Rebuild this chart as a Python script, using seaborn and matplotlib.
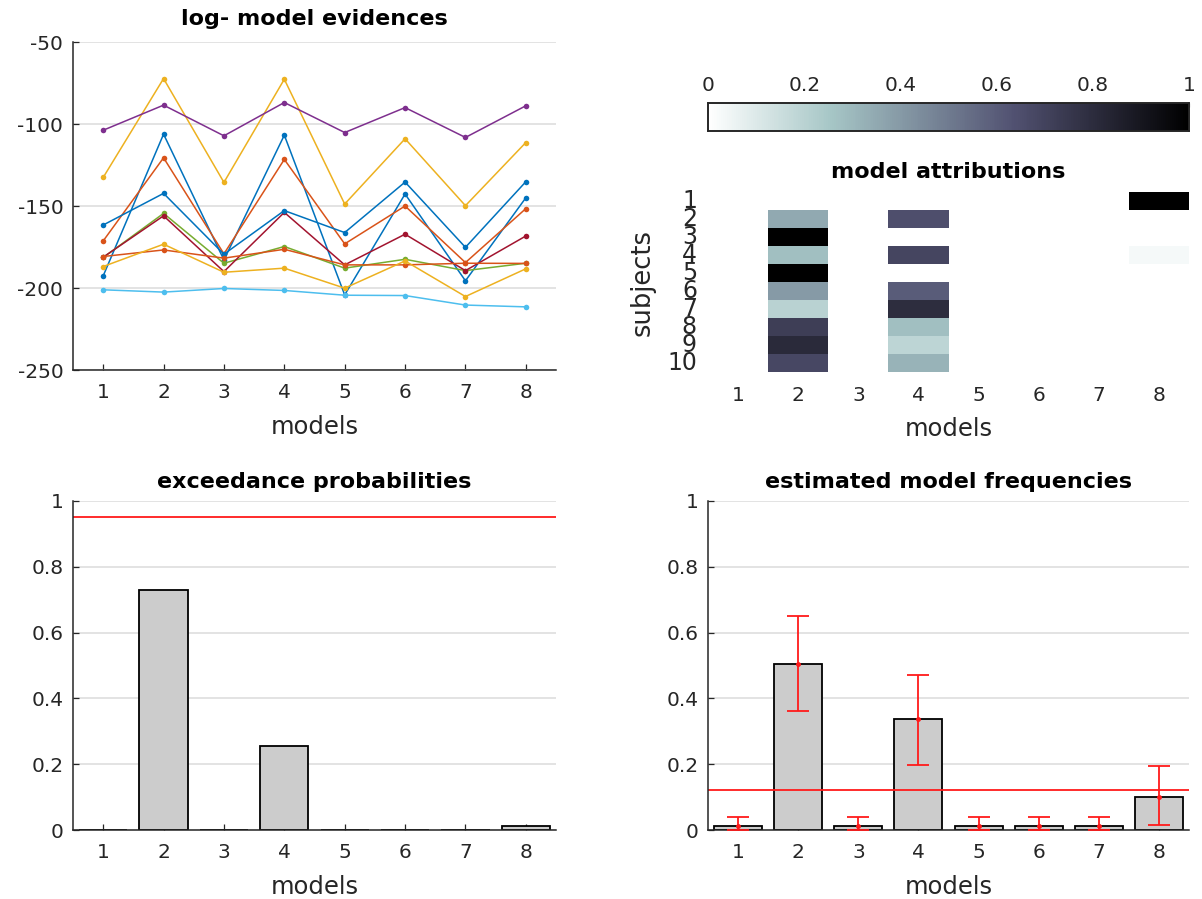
import numpy as np
import pandas as pd
import matplotlib
matplotlib.use("Agg")
import matplotlib.pyplot as plt
import seaborn as sns

# ---------------------------------------------------------------- data
models = [1, 2, 3, 4, 5, 6, 7, 8]
subjects = [1, 2, 3, 4, 5, 6, 7, 8, 9, 10]

# log-model evidence per subject (one list per subject, over the 8 models)
lme_s1 = [-192.6, -106.2, -182.9, -106.8, -204.2, -142.7, -195.6, -145.0]
lme_s2 = [-171.3, -120.6, -179.2, -121.6, -173.1, -150.0, -184.5, -151.6]
lme_s3 = [-132.6, -72.3, -135.6, -72.7, -148.8, -109.0, -149.8, -111.3]
lme_s4 = [-103.8, -88.5, -107.2, -86.9, -105.2, -90.0, -108.2, -88.9]
lme_s5 = [-181.4, -154.5, -184.9, -174.7, -187.9, -182.5, -189.4, -184.9]
lme_s6 = [-201.1, -202.5, -200.3, -201.5, -204.4, -204.6, -210.4, -211.5]
lme_s7 = [-181.2, -156.0, -190.0, -153.9, -185.9, -167.2, -189.4, -168.3]
lme_s8 = [-161.6, -142.3, -179.4, -152.8, -166.2, -135.4, -175.2, -135.2]
lme_s9 = [-180.8, -176.8, -181.8, -176.4, -185.9, -185.9, -184.9, -185.0]
lme_s10 = [-186.9, -173.3, -190.4, -187.9, -200.1, -183.5, -205.2, -188.3]
lme_rows = [lme_s1, lme_s2, lme_s3, lme_s4, lme_s5,
            lme_s6, lme_s7, lme_s8, lme_s9, lme_s10]

# posterior model attributions (rows: subjects, columns: models)
attr_m2 = [0.00, 0.35, 1.00, 0.28, 1.00, 0.40, 0.20, 0.72, 0.81, 0.68]
attr_m4 = [0.00, 0.65, 0.00, 0.69, 0.00, 0.60, 0.80, 0.28, 0.19, 0.32]
attr_m8 = [1.00, 0.00, 0.00, 0.03, 0.00, 0.00, 0.00, 0.00, 0.00, 0.00]

# exceedance probabilities
xp = [0.0, 0.731, 0.0, 0.254, 0.0, 0.0, 0.0, 0.011]
xp_threshold = 0.95

# estimated model frequencies with their lower / upper bounds
freq = [0.011, 0.504, 0.011, 0.336, 0.011, 0.011, 0.011, 0.101]
freq_lo = [0.0, 0.362, 0.0, 0.199, 0.0, 0.0, 0.0, 0.016]
freq_hi = [0.041, 0.650, 0.041, 0.472, 0.041, 0.041, 0.041, 0.194]
chance_level = 0.122

# ---------------------------------------------------------------- style
sns.set_theme(style="white")
plt.rcParams["font.family"] = ["DejaVu Sans"]
plt.rcParams["axes.unicode_minus"] = False
TXT = "#262626"
GRID = "#e0e0e0"
TICK_FS = 14.5
LAB_FS = 17.5
TITLE_FS = 16
matlab_colors = ["#0072BD", "#D95319", "#EDB120", "#7E2F8E", "#77AC30",
                 "#4DBEEE", "#A2142F", "#0072BD", "#D95319", "#EDB120"]

W, H = 1202, 899
fig = plt.figure(figsize=(W / 100, H / 100), dpi=100)


def box(x0, y0, x1, y1):
    return [x0 / W, 1 - y1 / H, (x1 - x0) / W, (y1 - y0) / H]


def style_axes(ax):
    for side in ("top", "right"):
        ax.spines[side].set_visible(False)
    for side in ("left", "bottom"):
        ax.spines[side].set_color(TXT)
        ax.spines[side].set_linewidth(1.1)
    ax.tick_params(bottom=True, left=True, direction="in", length=4,
                   width=0.9, colors=TXT, labelsize=TICK_FS, labelcolor=TXT)
    ax.tick_params(axis="y", pad=7)
    ax.tick_params(axis="x", pad=9)
    ax.yaxis.grid(True, color=GRID, linewidth=1.3)
    ax.xaxis.grid(False)
    ax.set_axisbelow(True)


# ---------------------------------------------------------- log evidences
ax1 = fig.add_axes(box(73, 42, 556, 370))
lme_df = pd.DataFrame(
    [(s, m, v) for s, row in zip(subjects, lme_rows) for m, v in zip(models, row)],
    columns=["subject", "model", "lme"],
)
sns.lineplot(data=lme_df, x="model", y="lme", hue="subject",
             palette=matlab_colors, marker="o", markersize=4,
             markeredgewidth=0, linewidth=1.1, legend=False, ax=ax1)
ax1.set_xlim(0.5, 8.5)
ax1.set_ylim(-250, -50)
ax1.set_xticks(models)
ax1.set_yticks([-250, -200, -150, -100, -50])
style_axes(ax1)
ax1.set_xlabel("models", fontsize=LAB_FS, color=TXT, labelpad=10)
ax1.set_ylabel("")
ax1.set_title("log- model evidences", fontsize=TITLE_FS, fontweight="bold",
              color="black", pad=12)

# ------------------------------------------------------ model attributions
ax2 = fig.add_axes(box(708, 192, 1189, 372))
cax = fig.add_axes(box(708, 103, 1189, 131))
attr = pd.DataFrame(0.0, index=subjects, columns=models)
attr[2] = attr_m2
attr[4] = attr_m4
attr[8] = attr_m8
sns.heatmap(attr, cmap="bone_r", vmin=0, vmax=1, ax=ax2, cbar_ax=cax,
            cbar_kws={"orientation": "horizontal",
                      "ticks": [0, 0.2, 0.4, 0.6, 0.8, 1]})
ax2.set_xticklabels([str(m) for m in models], rotation=0)
ax2.set_yticklabels([str(s) for s in subjects], rotation=0)
ax2.tick_params(length=0, labelsize=TICK_FS, labelcolor=TXT)
ax2.tick_params(axis="x", pad=10)
ax2.tick_params(axis="y", pad=8)
for lbl in ax2.get_yticklabels():
    lbl.set_fontsize(17)
ax2.set_xlabel("models", fontsize=LAB_FS, color=TXT, labelpad=9)
ax2.set_ylabel("subjects", fontsize=LAB_FS + 1, color=TXT, labelpad=8)
ax2.set_title("model attributions", fontsize=TITLE_FS, fontweight="bold",
              color="black", pad=10)

cax.xaxis.set_ticks_position("top")
cax.xaxis.set_label_position("top")
cax.tick_params(axis="x", top=True, direction="in", length=3, width=0.8,
                colors=TXT, labelsize=TICK_FS, labelcolor=TXT, pad=6)
cax.set_xticklabels(["0", "0.2", "0.4", "0.6", "0.8", "1"])
for sp in cax.spines.values():
    sp.set_visible(True)
    sp.set_color(TXT)
    sp.set_linewidth(1.2)

# ------------------------------------------------- exceedance probabilities
ax3 = fig.add_axes(box(73, 501, 556, 830))
sns.barplot(x=models, y=xp, native_scale=True, color="#cccccc",
            saturation=1, edgecolor="black", linewidth=1.3, width=0.8, ax=ax3)
ax3.axhline(xp_threshold, color="#ff1a1a", linewidth=1.3)
ax3.set_xlim(0.5, 8.5)
ax3.set_ylim(0, 1)
ax3.set_xticks(models)
ax3.set_xticklabels([str(m) for m in models])
ax3.set_yticks([0, 0.2, 0.4, 0.6, 0.8, 1])
ax3.set_yticklabels(["0", "0.2", "0.4", "0.6", "0.8", "1"])
style_axes(ax3)
ax3.set_xlabel("models", fontsize=LAB_FS, color=TXT, labelpad=10)
ax3.set_title("exceedance probabilities", fontsize=TITLE_FS,
              fontweight="bold", color="black", pad=9)

# ---------------------------------------------- estimated model frequencies
ax4 = fig.add_axes(box(708, 501, 1189, 830))
sns.barplot(x=models, y=freq, native_scale=True, color="#cccccc",
            saturation=1, edgecolor="black", linewidth=1.3, width=0.8, ax=ax4)
f = np.array(freq)
yerr = np.vstack([f - np.array(freq_lo), np.array(freq_hi) - f])
ax4.errorbar(models, freq, yerr=yerr, fmt=".", color="#ff1a1a",
             ecolor="#ff1a1a", elinewidth=1.3, capsize=8, capthick=1.3,
             markersize=5, zorder=5)
ax4.axhline(chance_level, color="#ff1a1a", linewidth=1.3)
ax4.set_xlim(0.5, 8.5)
ax4.set_ylim(0, 1)
ax4.set_xticks(models)
ax4.set_xticklabels([str(m) for m in models])
ax4.set_yticks([0, 0.2, 0.4, 0.6, 0.8, 1])
ax4.set_yticklabels(["0", "0.2", "0.4", "0.6", "0.8", "1"])
style_axes(ax4)
ax4.set_xlabel("models", fontsize=LAB_FS, color=TXT, labelpad=10)
ax4.set_title("estimated model frequencies", fontsize=TITLE_FS,
              fontweight="bold", color="black", pad=9)

fig.savefig("out.png", dpi=100)
